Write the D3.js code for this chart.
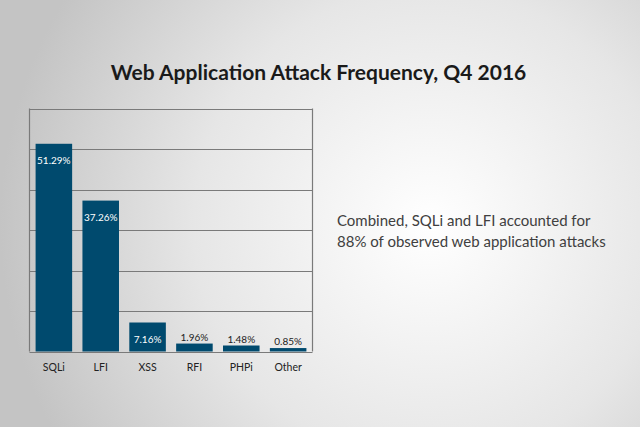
<!DOCTYPE html>
<html>
<head>
<meta charset="utf-8">
<script src="https://cdn.jsdelivr.net/npm/d3@7"></script>
<style>
  html, body { margin: 0; padding: 0; }
  body { width: 640px; height: 427px; overflow: hidden; }
  text { font-family: Lato, "Open Sans", sans-serif; }
</style>
</head>
<body>
<div id="chart"></div>
<script>
var categories = ['SQLi', 'LFI', 'XSS', 'RFI', 'PHPi', 'Other'];
var values = [51.29, 37.26, 7.16, 1.96, 1.48, 0.85];
var yTicks = [0, 10, 20, 30, 40, 50, 60];
var titleText = 'Web Application Attack Frequency, Q4 2016';
var noteLines = ['Combined, SQLi and LFI accounted for', '88% of observed web application attacks'];

var width = 640,
	height = 427;
var plot = {left: 29.5, right: 312.5, top: 108.5, bottom: 351.5};
var barColor = '#004a6e';
var gridColor = '#7a7a7a';

var svg = d3.select('#chart').append('svg')
	.attr('width', width)
	.attr('height', height);

// background
var grad = svg.append('defs').append('radialGradient')
	.attr('id', 'bg')
	.attr('gradientUnits', 'userSpaceOnUse')
	.attr('cx', 430).attr('cy', 225).attr('r', 430);
grad.append('stop').attr('offset', '0%').attr('stop-color', '#ffffff');
grad.append('stop').attr('offset', '55%').attr('stop-color', '#e6e6e6');
grad.append('stop').attr('offset', '100%').attr('stop-color', '#c4c4c4');

svg.append('rect')
	.attr('width', width)
	.attr('height', height)
	.attr('fill', 'url(#bg)');

var x = d3.scaleBand()
	.domain(categories)
	.range([plot.left, plot.right])
	.paddingInner(0.22)
	.paddingOuter(0.13);

var y = d3.scaleLinear()
	.domain([0, 60])
	.range([plot.bottom, plot.top]);

// gridlines
svg.append('g')
	.selectAll('line')
	.data(yTicks)
	.enter().append('line')
	.attr('x1', plot.left)
	.attr('x2', plot.right)
	.attr('y1', function(d) { return Math.round(y(d)) + 0.5; })
	.attr('y2', function(d) { return Math.round(y(d)) + 0.5; })
	.attr('stroke', gridColor)
	.attr('stroke-width', 1.2);

// frame sides
svg.append('line')
	.attr('x1', plot.left).attr('x2', plot.left)
	.attr('y1', y(60)).attr('y2', y(0))
	.attr('stroke', gridColor).attr('stroke-width', 1.2);
svg.append('line')
	.attr('x1', plot.right).attr('x2', plot.right)
	.attr('y1', y(60)).attr('y2', y(0))
	.attr('stroke', gridColor).attr('stroke-width', 1.2);

var data = categories.map(function(c, i) { return {key: c, value: values[i]}; });

var bars = svg.selectAll('.bar')
	.data(data)
	.enter().append('g')
	.attr('class', 'bar');

bars.append('rect')
	.attr('x', function(d) { return x(d.key); })
	.attr('y', function(d) { return y(d.value); })
	.attr('width', x.bandwidth())
	.attr('height', function(d) { return y(0) - y(d.value); })
	.attr('fill', barColor);

// value labels: inside for tall bars, above for short ones
bars.append('text')
	.attr('x', function(d) { return x(d.key) + x.bandwidth() / 2; })
	.attr('y', function(d) {
		return d.value > 5 ? y(d.value) + 20.5 : y(d.value) - 3;
	})
	.attr('text-anchor', 'middle')
	.attr('font-size', 10)
	.attr('fill', function(d) { return d.value > 5 ? '#ffffff' : '#222222'; })
	.text(function(d) { return d3.format('.2f')(d.value) + '%'; });

// category labels
svg.append('g')
	.selectAll('text')
	.data(categories)
	.enter().append('text')
	.attr('x', function(d) { return x(d) + x.bandwidth() / 2; })
	.attr('y', plot.bottom + 19.5)
	.attr('text-anchor', 'middle')
	.attr('font-size', 10.5)
	.attr('fill', '#222222')
	.text(function(d) { return d; });

// title
svg.append('text')
	.attr('x', 318.5)
	.attr('y', 80)
	.attr('text-anchor', 'middle')
	.attr('font-size', 21)
	.attr('font-weight', 700)
	.attr('fill', '#1a1a1a')
	.text(titleText);

// note
svg.append('g')
	.selectAll('text')
	.data(noteLines)
	.enter().append('text')
	.attr('x', 337)
	.attr('y', function(d, i) { return 226 + i * 21; })
	.attr('font-size', 15)
	.attr('fill', '#404040')
	.text(function(d) { return d; });
</script>
</body>
</html>
